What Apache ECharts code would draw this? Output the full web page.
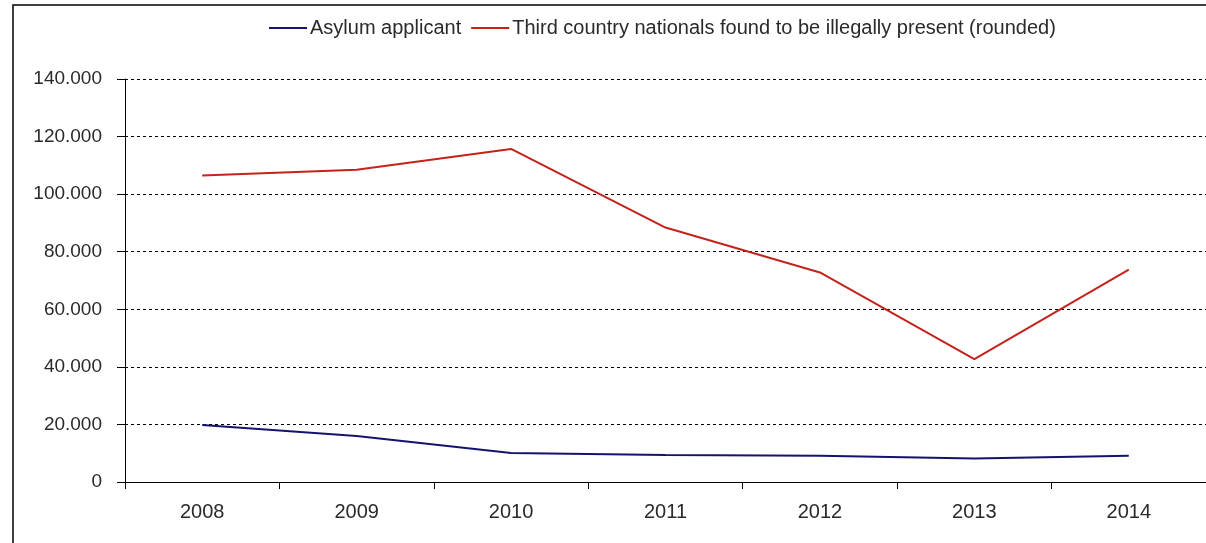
<!DOCTYPE html>
<html>
<head>
<meta charset="utf-8">
<script src="https://cdn.jsdelivr.net/npm/echarts@6/dist/echarts.min.js"></script>
<style>
html, body { margin: 0; padding: 0; background: #fff; }
#chart { width: 1206px; height: 543px; }
</style>
</head>
<body>
<div id="chart"></div>
<script>
var years = ["2008", "2009", "2010", "2011", "2012", "2013", "2014"];
var asylum = [19800, 16000, 10100, 9400, 9100, 8200, 9100];
var illegal = [106500, 108500, 115700, 88400, 72800, 42700, 73800];
var yTicks = [0, 20000, 40000, 60000, 80000, 100000, 120000, 140000];

var myChart = echarts.init(document.getElementById("chart"));

var txtFont = "Liberation Sans";

var option = {
    backgroundColor: "#fff",
    animation: false,
    graphic: [
        {
            // outer frame of the original picture
            type: "rect",
            shape: { x: 13, y: 5, width: 1250, height: 600 },
            style: { fill: "none", stroke: "#000", lineWidth: 1.5 },
            silent: true
        }
    ],
    legend: {
        left: 264,
        top: 13,
        itemWidth: 38,
        itemHeight: 2,
        itemGap: 10,
        icon: "rect",
        textStyle: { color: "#2a2a2a", fontSize: 20, fontFamily: txtFont, padding: [0, 0, 0, -2] }
    },
    grid: {
        left: 125,
        top: 79,
        width: 1083,
        bottom: 61
    },
    xAxis: {
        type: "category",
        data: years,
        boundaryGap: true,
        axisLine: { lineStyle: { color: "#000", width: 1 } },
        axisTick: { show: true, length: 7, lineStyle: { color: "#000" } },
        axisLabel: { color: "#2a2a2a", fontSize: 20, fontFamily: txtFont, margin: 20 }
    },
    yAxis: {
        type: "value",
        min: yTicks[0],
        max: yTicks[yTicks.length - 1],
        interval: 20000,
        axisLine: { show: true, lineStyle: { color: "#000", width: 1 } },
        axisTick: { show: true, length: 8, lineStyle: { color: "#000" } },
        axisLabel: {
            color: "#2a2a2a",
            fontSize: 19,
            fontFamily: txtFont,
            margin: 23,
            formatter: function (v) {
                return v === 0 ? "0" : (v / 1000) + ".000";
            }
        },
        splitLine: {
            show: true,
            lineStyle: { color: "#000", type: [3, 3], width: 1 }
        }
    },
    series: [
        {
            name: "Asylum applicant",
            type: "line",
            data: asylum,
            symbol: "none",
            itemStyle: { color: "#14146e" },
            lineStyle: { color: "#14146e", width: 2 }
        },
        {
            name: "Third country nationals found to be illegally present (rounded)",
            type: "line",
            data: illegal,
            symbol: "none",
            itemStyle: { color: "#c4231c" },
            lineStyle: { color: "#c4231c", width: 2 }
        }
    ]
};
myChart.setOption(option);
</script>
</body>
</html>
